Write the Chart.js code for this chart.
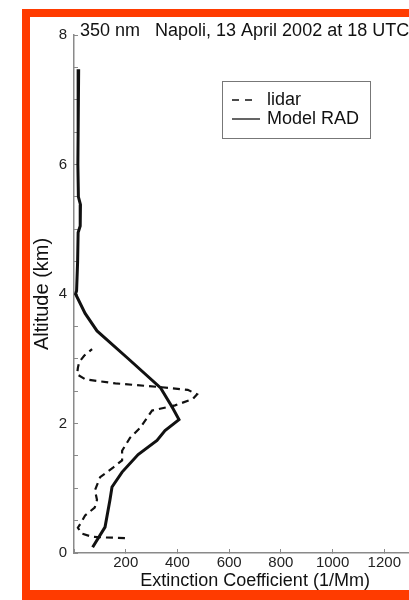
<!DOCTYPE html>
<html>
<head>
<meta charset="utf-8">
<script src="https://cdn.jsdelivr.net/npm/chart.js@4"></script>
<style>
  html, body { margin: 0; padding: 0; background: #fff; overflow: hidden; width: 409px; height: 600px; }
  #frame {
    position: absolute; left: 22px; top: 9px; width: 520px; height: 591px;
    box-sizing: border-box;
    border-top: 8px solid #ff3b00; border-left: 8px solid #ff3b00; border-bottom: 10px solid #ff3b00;
    pointer-events: none; z-index: 2;
  }
  #chart { position: absolute; left: 30px; top: 15px; }
</style>
</head>
<body>
<canvas id="chart" width="450" height="585"></canvas>
<div id="frame"></div>
<script>
// Model RAD profile (altitude km / extinction 1/Mm)
const modelAlt = [7.47, 7.0, 6.5, 6.0, 5.5, 5.38, 5.05, 4.95, 4.5, 4.05, 4.0, 3.7, 3.43, 3.0, 2.55, 2.25, 2.06, 1.89, 1.74, 1.52, 1.25, 1.02, 0.82, 0.4, 0.09];
const modelExt = [18, 16, 16, 15, 17, 25, 24, 16, 14, 10, 6, 43, 89, 210, 335, 380, 406, 352, 321, 248, 186, 147, 139, 120, 72];

// lidar profile
const lidarAlt = [0.23, 0.24, 0.25, 0.3, 0.39, 0.46, 0.58, 0.7, 0.82, 0.97, 1.17, 1.32, 1.43, 1.58, 1.78, 1.93, 2.2, 2.28, 2.38, 2.45, 2.52, 2.56, 2.62, 2.68, 2.76, 2.86, 2.95, 3.05, 3.15];
const lidarExt = [197, 120, 70, 30, 15, 26, 43, 80, 89, 81, 101, 151, 186, 186, 217, 255, 302, 391, 460, 476, 440, 340, 160, 45, 12, 15, 20, 40, 70];

const xTicks = [0, 200, 400, 600, 800, 1000, 1200, 1400];
const yLabels = [0, 2, 4, 6, 8];

const titleText = '350 nm   Napoli, 13 April 2002 at 18 UTC';
const FONT = "'Liberation Sans', Arial, Helvetica, sans-serif";
const AXIS = '#8a8a8a';

function toPoints(xs, ys) {
  return xs.map((x, i) => ({ x: x, y: ys[i] }));
}

// title + boxed legend drawn inside the plot
const overlayPlugin = {
  id: 'overlay',
  afterDraw(chart) {
    const { ctx, chartArea } = chart;
    ctx.save();
    ctx.fillStyle = '#111';
    ctx.font = '18px ' + FONT;
    ctx.textBaseline = 'middle';
    ctx.textAlign = 'left';
    ctx.fillText(titleText, chartArea.left + 6, chartArea.top - 4);

    const bx = chartArea.left + 148, by = chartArea.top + 46;
    const bw = 148, bh = 57;
    ctx.fillStyle = '#fff';
    ctx.fillRect(bx, by, bw, bh);
    ctx.strokeStyle = '#777';
    ctx.lineWidth = 1;
    ctx.strokeRect(bx + 0.5, by + 0.5, bw, bh);

    chart.data.datasets.forEach((ds, i) => {
      const cy = by + 19 + i * 19;
      const dashed = (ds.borderDash || []).length > 0;
      ctx.beginPath();
      ctx.setLineDash(dashed ? [7, 6] : []);
      ctx.lineWidth = 1.3;
      ctx.strokeStyle = '#111';
      ctx.moveTo(bx + 10, cy);
      ctx.lineTo(bx + (dashed ? 30 : 38), cy);
      ctx.stroke();
      ctx.setLineDash([]);
      ctx.fillStyle = '#111';
      ctx.font = '18px ' + FONT;
      ctx.fillText(ds.label, bx + 45, cy);
    });
    ctx.restore();
  }
};

new Chart(document.getElementById('chart'), {
  type: 'scatter',
  data: {
    datasets: [
      {
        label: 'lidar',
        data: toPoints(lidarExt, lidarAlt),
        showLine: true,
        borderColor: '#111',
        borderWidth: 2.2,
        borderDash: [7, 5],
        pointRadius: 0,
        tension: 0
      },
      {
        label: 'Model RAD',
        data: toPoints(modelExt, modelAlt),
        showLine: true,
        borderColor: '#111',
        borderWidth: 3,
        pointRadius: 0,
        tension: 0
      }
    ]
  },
  options: {
    responsive: false,
    animation: false,
    devicePixelRatio: 1,
    layout: { padding: { top: 16, left: 0, right: 44, bottom: 0 } },
    plugins: {
      legend: { display: false },
      tooltip: { enabled: false },
      title: { display: false }
    },
    scales: {
      x: {
        type: 'linear',
        position: 'bottom',
        min: 0,
        max: 1400,
        afterBuildTicks: axis => { axis.ticks = xTicks.map(v => ({ value: v })); },
        afterFit: axis => { axis.height = 47; },
        ticks: {
          autoSkip: false,
          maxRotation: 0,
          padding: 5,
          color: '#222',
          font: { family: FONT, size: 15 },
          callback: v => (v === 0 ? '' : v)
        },
        grid: { drawOnChartArea: false, drawTicks: true, tickLength: -4, color: AXIS, lineWidth: 1 },
        border: { color: AXIS, width: 1.5 },
        title: {
          display: true,
          text: 'Extinction Coefficient (1/Mm)',
          color: '#111',
          font: { family: FONT, size: 18 },
          padding: { top: 0, bottom: 8 }
        }
      },
      y: {
        type: 'linear',
        min: 0,
        max: 8,
        afterFit: axis => { axis.width = 44; },
        ticks: {
          stepSize: 0.5,
          autoSkip: false,
          padding: 11,
          color: '#222',
          font: { family: FONT, size: 15 },
          callback: v => (yLabels.includes(v) ? v : '')
        },
        grid: { drawOnChartArea: false, drawTicks: true, tickLength: -4, color: AXIS, lineWidth: 1 },
        border: { color: AXIS, width: 1.5 },
        title: {
          display: true,
          text: 'Altitude (km)',
          color: '#111',
          font: { family: FONT, size: 20 },
          padding: { top: 0, bottom: 0 }
        }
      }
    }
  },
  plugins: [overlayPlugin]
});
</script>
</body>
</html>
